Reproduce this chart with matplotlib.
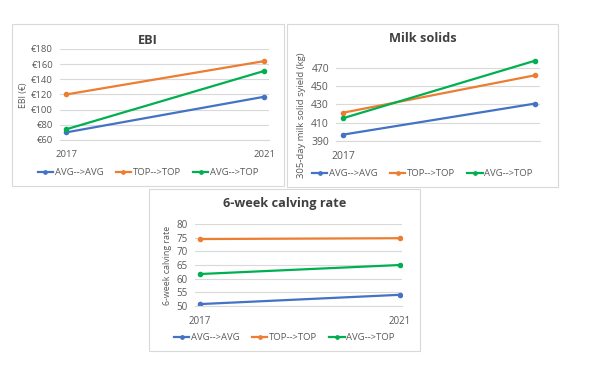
import matplotlib.pyplot as plt
from matplotlib.patches import Rectangle
from matplotlib.ticker import FuncFormatter

years = [2017, 2021]
series = ["AVG-->AVG", "TOP-->TOP", "AVG-->TOP"]
colors = ["#4472C4", "#ED7D31", "#00B050"]

ebi_avg_avg = [70, 117]
ebi_top_top = [120, 164]
ebi_avg_top = [74, 151]

ms_avg_avg = [397, 431]
ms_top_top = [421, 462]
ms_avg_top = [415, 478]

cr_avg_avg = [50.7, 54.1]
cr_top_top = [74.5, 74.8]
cr_avg_top = [61.7, 65.0]

W, H = 610, 391
plt.rcParams['font.family'] = ['Open Sans', 'DejaVu Sans']
fig = plt.figure(figsize=(W / 100, H / 100), dpi=100)
fig.patch.set_facecolor("white")

def px_box(x0, y0, x1, y1):
    # pixel coords (top-left origin) -> figure fraction rect
    return [x0 / W, 1 - y1 / H, (x1 - x0) / W, (y1 - y0) / H]

def border(x0, y0, x1, y1):
    r = Rectangle((x0 / W, 1 - y1 / H), (x1 - x0) / W, (y1 - y0) / H,
                  transform=fig.transFigure, fill=False, edgecolor="#D9D9D9", lw=0.8)
    fig.add_artist(r)

def panel(frame, rect, data, title, ylabel, ylim, yticks, xlim, xticks,
          title_y, ylab_xy, ylab_fs, leg_y, tick_fs, fmt=None):
    border(*frame)
    ax = fig.add_axes(px_box(*rect))
    for vals, lab, c in zip(data, series, colors):
        ax.plot(years, vals, color=c, lw=1.6, marker="o", ms=3, label=lab)
    ax.set_ylim(*ylim)
    ax.set_yticks(yticks)
    ax.set_xlim(*xlim)
    ax.set_xticks(xticks)
    if fmt:
        ax.yaxis.set_major_formatter(FuncFormatter(fmt))
    ax.grid(axis="y", color="#D9D9D9", lw=0.8)
    ax.set_axisbelow(True)
    for s in ["top", "right", "left"]:
        ax.spines[s].set_visible(False)
    ax.spines["bottom"].set_color("#D9D9D9")
    ax.tick_params(length=0, labelsize=tick_fs, colors="#595959", pad=5)
    ax.tick_params(axis="x", pad=7)
    cx = (frame[0] + frame[2]) / 2 / W
    fig.text(cx, 1 - title_y / H, title,
             ha="center", va="center", fontsize=9.2, fontweight="bold", color="#404040")
    fig.text(ylab_xy[0] / W, 1 - ylab_xy[1] / H, ylabel,
             rotation=90, ha="center", va="center", fontsize=ylab_fs, color="#595959")
    ax.legend(loc="center", bbox_to_anchor=(cx, 1 - leg_y / H), bbox_transform=fig.transFigure,
              ncol=3, frameon=False, fontsize=6.8, labelcolor="#595959",
              handlelength=1.6, columnspacing=1.3, handletextpad=0.2, markerscale=0.8)
    return ax

# EBI
panel((12, 24, 284, 186), (60, 49, 269, 140), [ebi_avg_avg, ebi_top_top, ebi_avg_top],
      "EBI", "EBI (€)", (60, 180), [60, 80, 100, 120, 140, 160, 180],
      (2016.88, 2021.1), years, 40, (23, 95), 6.3, 173, 6.8, fmt=lambda v, p: "€%d" % v)

# Milk solids
panel((287, 24, 558, 187), (336, 57, 540, 141), [ms_avg_avg, ms_top_top, ms_avg_top],
      "Milk solids", "305-day milk solid syield (kg)", (390, 482), [390, 410, 430, 450, 470],
      (2016.85, 2021.1), [2017], 39, (302, 115), 6.8, 174, 7.5)

# 6-week calving rate
panel((149, 189, 420, 351), (195, 224, 402, 306), [cr_avg_avg, cr_top_top, cr_avg_top],
      "6-week calving rate", "6-week calving rate", (50, 80), [50, 55, 60, 65, 70, 75, 80],
      (2016.9, 2021.04), years, 203, (167, 265), 6.4, 338, 7)

fig.savefig("out.png", dpi=100)
